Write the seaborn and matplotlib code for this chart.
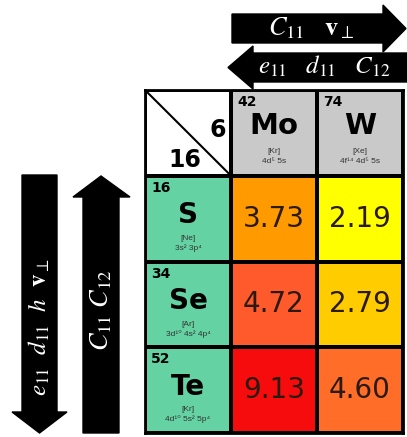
import numpy as np
import matplotlib
matplotlib.use("Agg")
import matplotlib.pyplot as plt
import seaborn as sns
from matplotlib.colors import LinearSegmentedColormap
from matplotlib.patches import Rectangle, Polygon

# ---- data ----
metals = ["Mo", "W"]
metal_Z = [42, 74]
metal_core = ["[Kr]", "[Xe]"]
metal_valence = ["4d⁵ 5s", "4f¹⁴ 4d⁵ 5s"]
chalcogens = ["S", "Se", "Te"]
chalc_Z = [16, 34, 52]
chalc_core = ["[Ne]", "[Ar]", "[Kr]"]
chalc_valence = ["3s² 3p⁴", "3d¹⁰ 4s² 4p⁴", "4d¹⁰ 5s² 5p⁴"]
values = [[3.73, 2.19],
          [4.72, 2.79],
          [9.13, 4.60]]
corner_top = "6"
corner_bottom = "16"
arrow_top_right = r"$C_{11}\quad\mathbf{v}_{\perp}$"
arrow_top_left = r"$e_{11}\ \ \ d_{11}\ \ \ C_{12}$"
arrow_down = r"$e_{11}\ \ d_{11}\ \ h\ \ \mathbf{v}_{\perp}$"
arrow_up = r"$C_{11}\ C_{12}$"

# ---- colours ----
anchor_vals = [2.19, 2.79, 3.73, 4.60, 4.72, 9.13]
anchor_cols = ["#ffff00", "#ffcc00", "#ff9900", "#ff6c2a", "#ff5a2c", "#f60c0c"]
vmin, vmax = min(anchor_vals), max(anchor_vals)
cmap = LinearSegmentedColormap.from_list(
    "tmd", [((v - vmin) / (vmax - vmin), c) for v, c in zip(anchor_vals, anchor_cols)])

sans = ["DejaVu Sans"]
small = ["Liberation Sans", "DejaVu Sans"]
plt.rcParams["mathtext.fontset"] = "stix"

W, H = 407, 437
fig = plt.figure(figsize=(W / 100, H / 100), dpi=100)

# overlay axes for arrows
ax2 = fig.add_axes([0, 0, 1, 1])
ax2.set_xlim(0, W)
ax2.set_ylim(H, 0)
ax2.axis("off")

# main grid axes
x0, x1, y0, y1 = 145, 403, 90, 433
ax = fig.add_axes([x0 / W, 1 - y1 / H, (x1 - x0) / W, (y1 - y0) / H])

grid = np.full((4, 3), np.nan)
grid[1:, 1:] = np.array(values)
annot = np.full((4, 3), "", dtype=object)
for i in range(3):
    for j in range(2):
        annot[i + 1, j + 1] = f"{values[i][j]:.2f}"

sns.heatmap(grid, ax=ax, cmap=cmap, vmin=vmin, vmax=vmax, annot=annot, fmt="",
            annot_kws={"fontsize": 20, "color": "#2a1a12", "family": sans},
            cbar=False, linewidths=1.5, linecolor="black",
            xticklabels=False, yticklabels=False)

lw = 1.5
# corner cell
ax.add_patch(Rectangle((0, 0), 1, 1, facecolor="white", edgecolor="black", lw=lw, zorder=0.5))
ax.plot([0, 1], [0, 1], color="black", lw=1.5, zorder=3)
ax.text(0.94, 0.47, corner_top, ha="right", va="center", fontsize=17, fontweight="bold", family=sans)
ax.text(0.46, 0.82, corner_bottom, ha="center", va="center", fontsize=17, fontweight="bold", family=sans)

# metal header cells
for j, (sym, z, core, val) in enumerate(zip(metals, metal_Z, metal_core, metal_valence)):
    cx = j + 1
    ax.add_patch(Rectangle((cx, 0), 1, 1, facecolor="#c9c9c9", edgecolor="black", lw=lw, zorder=0.5))
    ax.text(cx + 0.07, 0.14, str(z), ha="left", va="center", fontsize=10, fontweight="bold", family=sans)
    ax.text(cx + 0.5, 0.42, sym, ha="center", va="center", fontsize=21, fontweight="bold", family=sans)
    ax.text(cx + 0.5, 0.72, core, ha="center", va="center", fontsize=6, family=small, color="#333")
    ax.text(cx + 0.5, 0.83, val, ha="center", va="center", fontsize=6, family=small, color="#333")

# chalcogen cells
for i, (sym, z, core, val) in enumerate(zip(chalcogens, chalc_Z, chalc_core, chalc_valence)):
    cy = i + 1
    ax.add_patch(Rectangle((0, cy), 1, 1, facecolor="#64d2a2", edgecolor="black", lw=lw, zorder=0.5))
    ax.text(0.07, cy + 0.14, str(z), ha="left", va="center", fontsize=10, fontweight="bold", family=sans)
    ax.text(0.5, cy + 0.46, sym, ha="center", va="center", fontsize=20, fontweight="bold", family=sans)
    ax.text(0.5, cy + 0.73, core, ha="center", va="center", fontsize=6, family=small, color="#333")
    ax.text(0.5, cy + 0.84, val, ha="center", va="center", fontsize=6, family=small, color="#333")

ax.set_xlim(0, 3)
ax.set_ylim(4, 0)
for s in ax.spines.values():
    s.set_visible(True)
    s.set_linewidth(2)
    s.set_color("black")

# ---- arrows ----
arrows = [
    [(232, 14), (383, 14), (383, 5), (406, 28.5), (383, 52), (383, 43), (232, 43)],
    [(407, 53), (253, 53), (253, 46), (228, 67.5), (253, 89), (253, 82), (407, 82)],
    [(22, 175), (57, 175), (57, 412), (67, 412), (39.5, 433), (12, 412), (22, 412)],
    [(83, 433), (119, 433), (119, 197), (130, 197), (101, 176), (73, 197), (83, 197)],
]
for pts in arrows:
    ax2.add_patch(Polygon(pts, closed=True, facecolor="black", edgecolor="black"))

ax2.text(311, 28, arrow_top_right, color="white", ha="center", va="center", fontsize=19)
ax2.text(324, 66, arrow_top_left, color="white", ha="center", va="center", fontsize=18)
ax2.text(39.5, 327, arrow_down, color="white", ha="center", va="center", fontsize=18, rotation=90)
ax2.text(101, 310, arrow_up, color="white", ha="center", va="center", fontsize=19, rotation=90)

fig.savefig("out.png", dpi=100, facecolor="white")
